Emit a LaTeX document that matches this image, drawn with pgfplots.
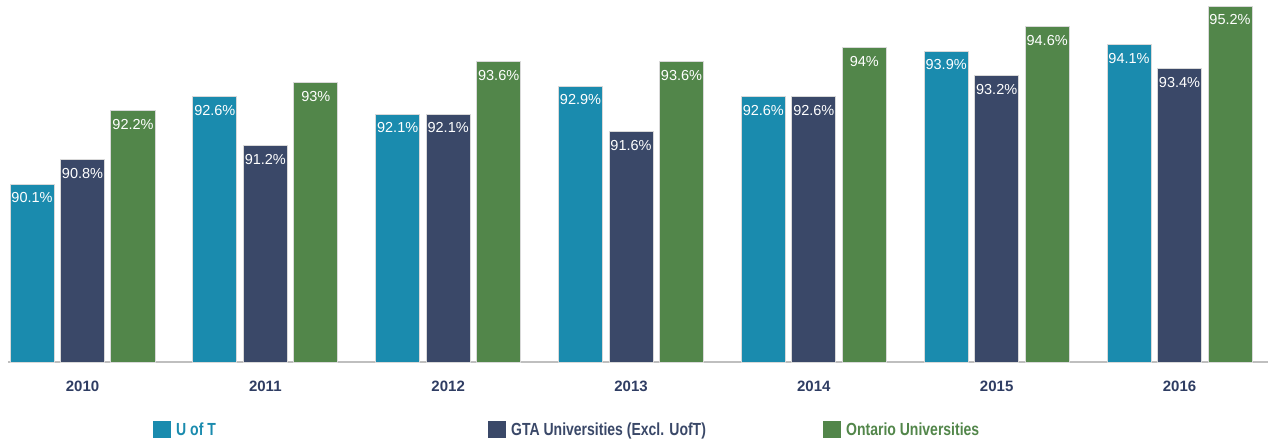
\documentclass[border=0pt]{standalone}
\usepackage{pgfplots}
\pgfplotsset{compat=1.18}
\usepackage{fontspec}
\setmainfont{Liberation Sans}
\newfontfamily\narrowfont[FakeStretch=0.8]{Liberation Sans}
\definecolor{cteal}{HTML}{1A8BAE}
\definecolor{cnavy}{HTML}{3A4868}
\definecolor{cgreen}{HTML}{52864A}
\definecolor{cyear}{HTML}{2F3D63}
\begin{document}
\begin{tikzpicture}[x=1pt,y=1pt]
\path[use as bounding box] (0,0) rectangle (1268,440);
\begin{axis}[
  at={(8pt,78pt)}, anchor=south west,
  scale only axis, width=1260pt, height=362pt,
  xmin=-0.4075, xmax=6.484, ymin=85, ymax=95.372,
  axis x line*=bottom, axis y line=none,
  x axis line style={draw=black!25, line width=2pt},
  xtick={0,1,2,3,4,5,6},
  xticklabels={2010,2011,2012,2013,2014,2015,2016},
  major tick length=0pt,
  xticklabel style={font=\bfseries\fontsize{15}{15}\selectfont, text=cyear, inner sep=0pt, anchor=north, yshift=-19pt},
  /pgf/number format/assume math mode=true,
  ybar, bar width=0.2407,
  nodes near coords={\pgfmathprintnumber[fixed,precision=1,assume math mode=true]{\pgfplotspointmeta}\%},
  nodes near coords align={below},
  every node near coord/.append style={font=\fontsize{14.5}{14.5}\selectfont, text=white, inner sep=0pt, yshift=-8pt},
  legend columns=3,
  legend cell align=left,
  legend style={at={(0.1151,-0.1865)}, anchor=west, draw=none, fill=none, inner sep=0pt,
    nodes={inner sep=0pt},
    /tikz/every odd column/.style={column sep=5pt},
    /tikz/every even column/.style={column sep=0pt},
    font=\narrowfont\bfseries\fontsize{17.5}{17.5}\selectfont},
  legend image code/.code={\fill[#1,draw=none] (0pt,-8.5pt) rectangle (18pt,8.5pt);},
]
\addplot[fill=cteal, draw=black!15, line width=1pt, bar shift=-0.2762]
  coordinates {(0,90.1) (1,92.6) (2,92.1) (3,92.9) (4,92.6) (5,93.9) (6,94.1)};
\addlegendentry{\makebox[312pt][l]{\textcolor{cteal}{U of T}}}
\addplot[fill=cnavy, draw=black!15, line width=1pt, bar shift=0]
  coordinates {(0,90.8) (1,91.2) (2,92.1) (3,91.6) (4,92.6) (5,93.2) (6,93.4)};
\addlegendentry{\makebox[312pt][l]{\textcolor{cnavy}{GTA Universities (Excl. UofT)}}}
\addplot[fill=cgreen, draw=black!15, line width=1pt, bar shift=0.2762]
  coordinates {(0,92.2) (1,93) (2,93.6) (3,93.6) (4,94) (5,94.6) (6,95.2)};
\addlegendentry{\textcolor{cgreen}{Ontario Universities}}
\end{axis}
\end{tikzpicture}
\end{document}
